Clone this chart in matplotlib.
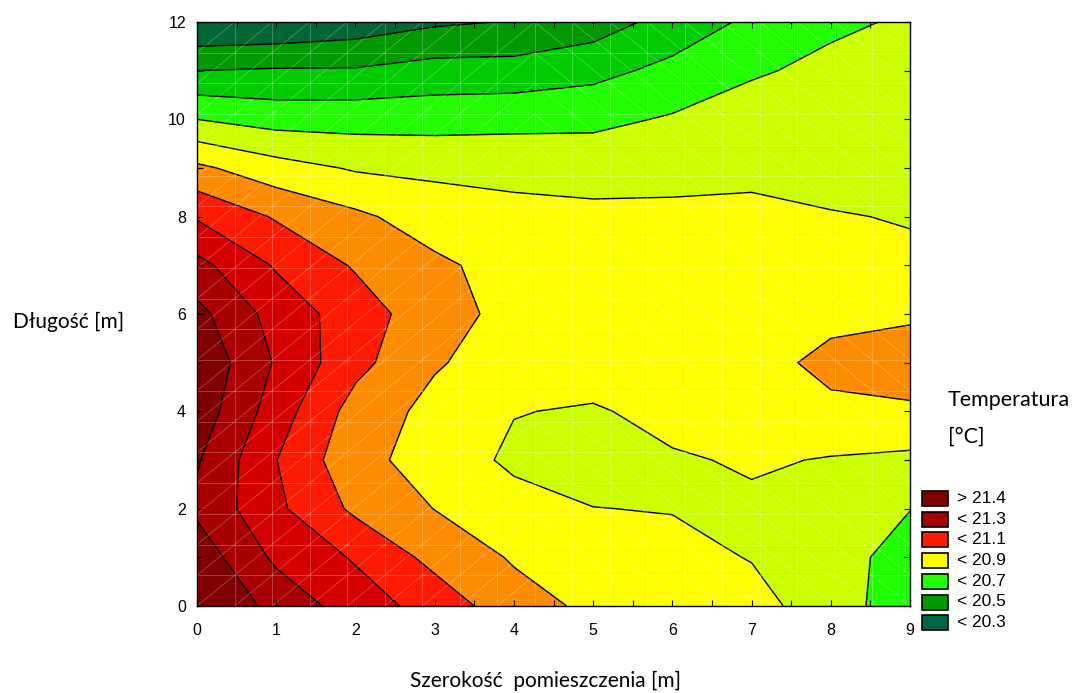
import numpy as np
import matplotlib
matplotlib.use("Agg")
import matplotlib.pyplot as plt
from matplotlib.patches import Rectangle
from matplotlib.collections import LineCollection

# grid coordinates (m)
x_vals = [0, 1, 2, 3, 4, 5, 6, 7, 8, 9]
y_vals = [0, 1, 2, 3, 4, 5, 6, 7, 8, 9, 10, 11, 12]

# temperature columns (one list per x, values from y=0 to y=12)
t_x0 = [21.40, 21.36, 21.28, 21.31, 21.36, 21.38, 21.33, 21.23, 21.09, 20.92, 20.70, 20.50, 20.30]
t_x1 = [21.27, 21.18, 21.12, 21.102, 21.15, 21.19, 21.16, 21.09, 20.99, 20.84, 20.66, 20.51, 20.31]
t_x2 = [21.15, 21.09, 20.98, 20.93, 20.96, 21.03, 21.05, 20.99, 20.92, 20.79, 20.66, 20.51, 20.34]
t_x3 = [21.06, 20.97, 20.898, 20.86, 20.87, 20.91, 20.94, 20.92, 20.85, 20.78, 20.66, 20.54, 20.385]
t_x4 = [20.94, 20.89, 20.84, 20.78, 20.804, 20.85, 20.87, 20.86, 20.83, 20.77, 20.67, 20.54, 20.405]
t_x5 = [20.88, 20.85, 20.802, 20.75, 20.79, 20.85, 20.87, 20.86, 20.82, 20.765, 20.675, 20.57, 20.45]
t_x6 = [20.86, 20.835, 20.795, 20.79, 20.83, 20.86, 20.88, 20.87, 20.82, 20.77, 20.71, 20.627, 20.537]
t_x7 = [20.84, 20.795, 20.785, 20.81, 20.83, 20.83, 20.84, 20.85, 20.83, 20.77, 20.74, 20.69, 20.62]
t_x8 = [20.74, 20.74, 20.77, 20.795, 20.86, 20.95, 20.85, 20.83, 20.81, 20.74, 20.72, 20.72, 20.685]
t_x9 = [20.65, 20.66, 20.702, 20.78, 20.88, 20.97, 20.88, 20.83, 20.79, 20.77, 20.76, 20.75, 20.71]

# contour levels and band colours (low -> high)
levels = [19.0, 20.4, 20.5, 20.6, 20.7, 20.8, 20.9, 21.0, 21.1, 21.2, 21.3, 22.0]
band_colors = ["#006633", "#009a00", "#00cc00", "#22ff00", "#ccff00", "#ffff00",
               "#ff8c00", "#ff1a00", "#d40000", "#a80000", "#800000"]

# legend entries
legend_labels = ["> 21.4", "< 21.3", "< 21.1", "< 20.9", "< 20.7", "< 20.5", "< 20.3"]
legend_colors = ["#800000", "#a80000", "#ff1a00", "#ffff00", "#22ff00", "#009a00", "#006644"]

Z = np.array([t_x0, t_x1, t_x2, t_x3, t_x4, t_x5, t_x6, t_x7, t_x8, t_x9]).T
X, Y = np.meshgrid(x_vals, y_vals)

W, H = 1075, 693
fig = plt.figure(figsize=(W / 100, H / 100), dpi=100)
ax = fig.add_axes([197 / W, 1 - 606 / H, (910 - 197) / W, (606 - 22) / H])

ax.contourf(X, Y, Z, levels=levels, colors=band_colors)
ax.contour(X, Y, Z, levels=levels[1:-1], colors="black", linewidths=1.0)

# faint mesh overlay
nx, ny = 19, 19
gx = np.linspace(0, 9, nx + 1)
gy = np.linspace(0, 12, ny + 1)
segs = []
for v in gx:
    segs.append([(v, 0), (v, 12)])
for v in gy:
    segs.append([(0, v), (9, v)])
for i in range(nx):
    for j in range(ny):
        if (gx[i] + gx[i + 1]) / 2 < 4.5:
            segs.append([(gx[i], gy[j]), (gx[i + 1], gy[j + 1])])
        else:
            segs.append([(gx[i], gy[j + 1]), (gx[i + 1], gy[j])])
ax.add_collection(LineCollection(segs, colors="white", linewidths=0.6, alpha=0.28))

ax.set_xlim(0, 9)
ax.set_ylim(0, 12)
tick_font = dict(fontfamily="Liberation Sans", fontsize=11.5)
ax.set_xticks(range(0, 10))
ax.set_xticks(np.arange(0, 9.01, 0.5), minor=True)
ax.set_yticks(range(0, 13, 2))
ax.set_yticks(range(0, 13), minor=True)
ax.set_xticklabels([str(v) for v in range(0, 10)], **tick_font)
ax.set_yticklabels([str(v) for v in range(0, 13, 2)], **tick_font)
ax.tick_params(which="both", direction="in", top=True, right=True, length=4, width=0.8)
ax.tick_params(axis="x", which="major", pad=12)
ax.tick_params(axis="y", which="major", pad=8)
for s in ax.spines.values():
    s.set_linewidth(1.0)

lab_font = dict(fontfamily="Lato", fontsize=15)
fig.text(69 / W, 1 - 322 / H, "Długość [m]", ha="center", va="center", **lab_font)
fig.text(545 / W, 1 - 681 / H, "Szerokość  pomieszczenia [m]", ha="center", va="center", **lab_font)
fig.text(948 / W, 1 - 400 / H, "Temperatura", ha="left", va="center", fontfamily="Lato", fontsize=15.5)
fig.text(948 / W, 1 - 437 / H, "[°C]", ha="left", va="center", fontfamily="Lato", fontsize=15.5)

for k, (lab, col) in enumerate(zip(legend_labels, legend_colors)):
    top = 491 + k * 20.7
    fig.add_artist(Rectangle((922 / W, 1 - (top + 15) / H), 26 / W, 15 / H,
                             transform=fig.transFigure, facecolor=col,
                             edgecolor="black", linewidth=1.2))
    fig.text(957 / W, 1 - (top + 7.5) / H, lab, ha="left", va="center",
             fontfamily="Liberation Sans", fontsize=12.5)

fig.savefig("out.png", dpi=100)
